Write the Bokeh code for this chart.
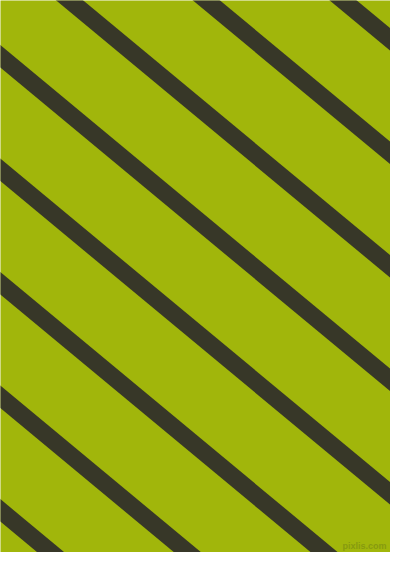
from bokeh.plotting import figure
from bokeh.models import Range1d, ColumnDataSource
from bokeh.core.properties import value
from bokeh.embed import file_html
from bokeh.resources import INLINE

# stripe data: y (pixel, downward) where each stripe's centre line meets x = 0
stripe_intercepts = [-284.5, -171.0, -57.5, 56.0, 169.5, 283.0, 396.5, 510.0]
stripe_slope = 0.83
background_color = "#a1b60b"
stripe_color = "#373728"
watermark = ["pixlis.com"]

x_start, x_end = -50.0, 460.0
xs = [[x_start, x_end] for _ in stripe_intercepts]
ys = [[c + stripe_slope * x_start, c + stripe_slope * x_end] for c in stripe_intercepts]
src = ColumnDataSource(dict(xs=xs, ys=ys))

p = figure(width=390, height=552, output_backend="svg", toolbar_location=None,
           x_range=Range1d(0, 390), y_range=Range1d(552, 0),
           x_axis_location=None, y_axis_location=None, min_border=0)
p.grid.visible = False
p.outline_line_color = None
p.background_fill_color = background_color
p.border_fill_color = background_color

p.multi_line(xs="xs", ys="ys", source=src, line_color=stripe_color,
             line_width=17.3, line_cap="butt")

p.text(x=[386], y=[550], text=watermark, text_align="right", text_baseline="bottom",
       text_font=value("Liberation Sans"), text_font_size="9px", text_font_style="bold",
       text_color="#879a10")

open("out.html", "w").write(file_html(p, INLINE))
